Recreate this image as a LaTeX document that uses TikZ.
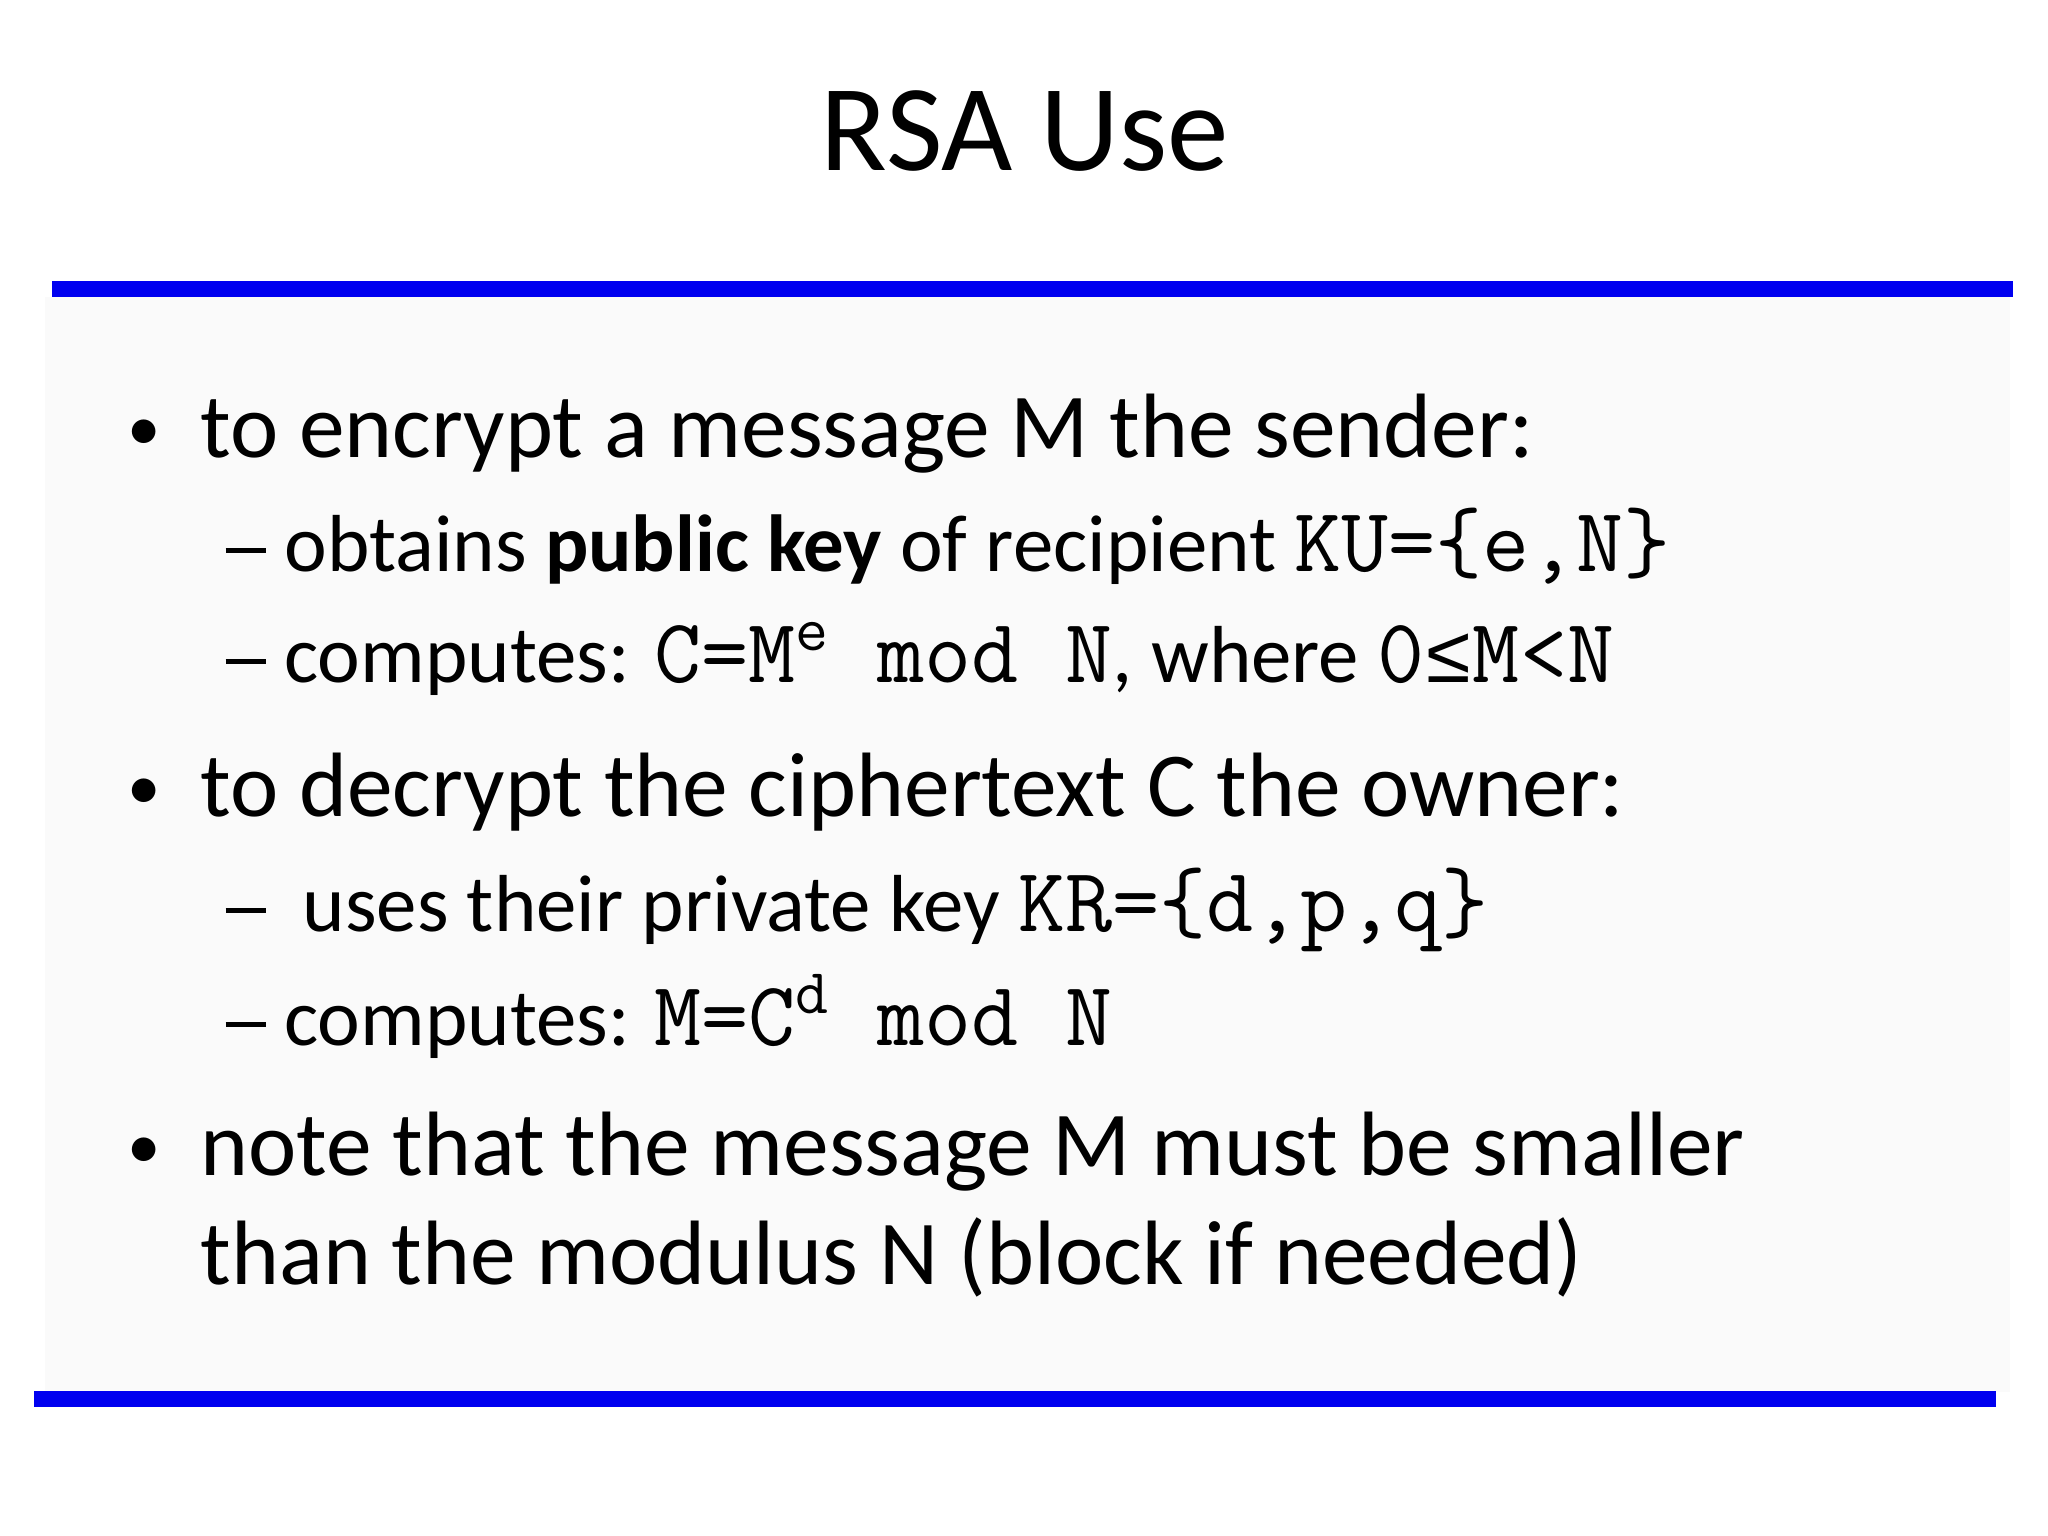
\documentclass[tikz,border=0pt]{standalone}
\usepackage{fontspec}
\setmainfont{Carlito}
\setmonofont[Scale=1.13]{Latin Modern Mono}
\newfontfamily\symf{Liberation Mono}
\newcommand{\dsh}{\raisebox{0.22em}{\rule{0.5em}{0.07em}}}
\begin{document}
\begin{tikzpicture}[x=0.01cm,y=-0.01cm,
  bul/.style={anchor=base west,inner sep=0pt,font=\fontsize{26}{30}\selectfont},
  bdot/.style={anchor=base west,inner sep=0pt,font=\fontsize{19}{22}\selectfont},
  sub/.style={anchor=base west,inner sep=0pt,font=\fontsize{23}{27}\selectfont},
  rule/.style={draw=none,fill={rgb,255:red,0;green,0;blue,240}}]
\useasboundingbox (0,0) rectangle (2048,1536);
\fill[white] (0,0) rectangle (2048,1536);
\fill[gray!4] (45,297) rectangle (2010,1392);
\fill[rule] (52,281) rectangle (2013,297) coordinate (r1);
\fill[rule] (34,1391) rectangle (1996,1407) coordinate (r2);
\node[anchor=base,inner sep=0pt,font=\fontsize{35}{40}\selectfont] (title) at (1025,170) {RSA Use};
\node[bdot] (b1d) at (127,450) {•};
\node[bul] (b1) at (200,457) {to encrypt a message M the sender:};
\node[sub] (s1) at (225,571) {\dsh{} obtains \textbf{public key} of recipient \texttt{KU=\{e,N\}}};
\node[sub] (s2) at (225,682) {\dsh{} computes: \texttt{C=M\textsuperscript{e} mod N}, where \texttt{0{\symf ≤}M<N}};
\node[bdot] (b2d) at (127,809) {•};
\node[bul] (b2) at (200,816) {to decrypt the ciphertext C the owner:};
\node[sub] (s3) at (225,931) {\dsh\ \ uses their private key \texttt{KR=\{d,p,q\}}};
\node[sub] (s4) at (225,1045) {\dsh{} computes: \texttt{M=C\textsuperscript{d} mod N}};
\node[bdot] (b3d) at (127,1168) {•};
\node[bul] (b3) at (200,1175) {note that the message M must be smaller};
\node[bul] (b3b) at (200,1284) {than the modulus N (block if needed)};
\end{tikzpicture}
\end{document}
